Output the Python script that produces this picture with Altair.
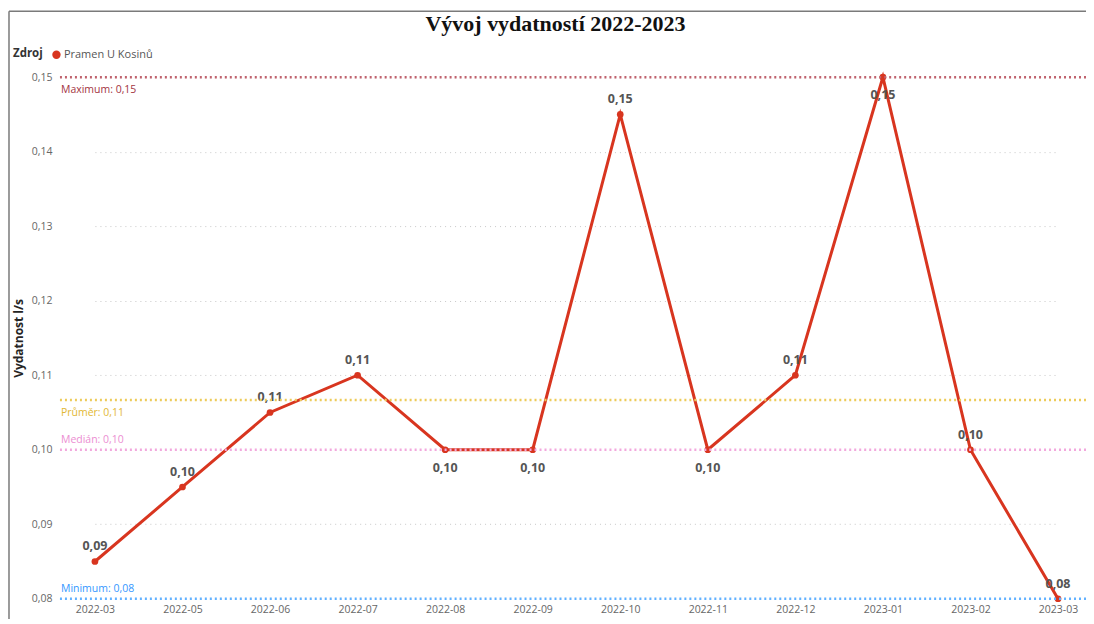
import altair as alt
import pandas as pd
import statistics
from decimal import Decimal, ROUND_HALF_UP

# ---- data ----
months = ["2022-03", "2022-05", "2022-06", "2022-07", "2022-08", "2022-09",
          "2022-10", "2022-11", "2022-12", "2023-01", "2023-02", "2023-03"]
values = [0.085, 0.095, 0.105, 0.11, 0.10, 0.10, 0.145, 0.10, 0.11, 0.15, 0.10, 0.08]
source = "Pramen U Kosinů"
y_ticks = [0.08, 0.09, 0.10, 0.11, 0.12, 0.13, 0.14, 0.15]

ref_names = ["Maximum", "Průměr", "Medián", "Minimum"]
ref_values = [max(values), statistics.mean(values), statistics.median(values), min(values)]
ref_line_colors = ["#C0636E", "#EDCB5A", "#F2A8DD", "#62B1FF"]
ref_text_colors = ["#A3343F", "#E2B833", "#EC8ED2", "#3597FF"]
ref_side = ["below", "below", "above", "above"]

LINE_RED = "#D8351F"
FONT = "Open Sans"
W, H = 1030, 522


def cz(v):
    return str(Decimal(str(v)).quantize(Decimal("0.01"), ROUND_HALF_UP)).replace(".", ",")


ymin, ymax = min(y_ticks), max(y_ticks)
pos = []
for i, v in enumerate(values):
    local_min = 0 < i < len(values) - 1 and v <= values[i - 1] and v <= values[i + 1]
    pos.append("below" if (v >= ymax or local_min) else "above")

df = pd.DataFrame({
    "month": months,
    "value": values,
    "label": [cz(v) for v in values],
    "pos": pos,
    "Zdroj": [source] * len(values),
})

refs = pd.DataFrame({
    "name": ref_names,
    "value": ref_values,
    "label": [f"{n}: {cz(v)}" for n, v in zip(ref_names, ref_values)],
    "side": ref_side,
})

x_enc = alt.X("month:N", sort=months, title=None,
              scale=alt.Scale(type="point", padding=0, range=[38, 1002]),
              axis=alt.Axis(labelAngle=0, ticks=False, domain=False, grid=False,
                            labelColor="#666", labelFontSize=10.5, labelFont=FONT,
                            labelPadding=6))
y_scale = alt.Scale(domain=[ymin, ymax], nice=False, zero=False)
y_enc = alt.Y("value:Q", scale=y_scale, title="Vydatnost l/s",
              axis=alt.Axis(values=y_ticks,
                            labelExpr="replace(format(datum.value, '.2f'), '.', ',')",
                            ticks=False, domain=False, grid=True,
                            gridColor="#C8C8C8", gridDash=[1, 4], gridWidth=1,
                            labelColor="#666", labelFontSize=10.5, labelFont=FONT,
                            labelPadding=5, titleFont=FONT, titleFontSize=12,
                            titleFontWeight="bold", titleColor="#252423",
                            titlePadding=6))

base = alt.Chart(df).encode(x=x_enc, y=y_enc)

line = base.mark_line(strokeWidth=3).encode(
    color=alt.Color("Zdroj:N", scale=alt.Scale(domain=[source], range=[LINE_RED]), legend=None)
)
points = base.mark_circle(size=45, opacity=1).encode(
    color=alt.Color("Zdroj:N", scale=alt.Scale(domain=[source], range=[LINE_RED]),
                    legend=alt.Legend(orient="none", legendX=-44, legendY=-28,
                                      direction="horizontal", titleOrient="left",
                                      title="Zdroj", titleFont=FONT, titleFontSize=11.5,
                                      titleFontWeight="bold", titleColor="#333",
                                      labelFont=FONT, labelFontSize=11, labelColor="#555",
                                      symbolType="circle", symbolSize=70,
                                      titlePadding=8, labelOffset=2))
)

lab_above = base.transform_filter(alt.datum.pos == "above").mark_text(
    dy=-15, fontWeight="bold", fontSize=12.5, font=FONT, color="#555"
).encode(text="label:N")
lab_below = base.transform_filter(alt.datum.pos == "below").mark_text(
    dy=18, fontWeight="bold", fontSize=12.5, font=FONT, color="#555"
).encode(text="label:N")

ref_base = alt.Chart(refs).encode(y=alt.Y("value:Q", scale=y_scale))
ref_rules = ref_base.mark_rule(strokeWidth=2.5, strokeDash=[2, 3]).encode(
    color=alt.Color("name:N", scale=alt.Scale(domain=ref_names, range=ref_line_colors), legend=None)
)
ref_lab_below = ref_base.transform_filter(alt.datum.side == "below").mark_text(
    align="left", dy=13, fontSize=10.5, font=FONT
).encode(x=alt.value(4), text="label:N",
         color=alt.Color("name:N", scale=alt.Scale(domain=ref_names, range=ref_text_colors), legend=None))
ref_lab_above = ref_base.transform_filter(alt.datum.side == "above").mark_text(
    align="left", dy=-10, fontSize=10.5, font=FONT
).encode(x=alt.value(4), text="label:N",
         color=alt.Color("name:N", scale=alt.Scale(domain=ref_names, range=ref_text_colors), legend=None))

# decorative visual frame (top and left edges, as in the reference)
frame_top = alt.Chart(refs.head(1)).mark_rule(color="#7A7A7A", strokeWidth=1.5).encode(
    x=alt.value(-48), x2=alt.value(W + 10), y=alt.value(-66)
)
frame_left = alt.Chart(refs.head(1)).mark_rule(color="#7A7A7A", strokeWidth=1.5).encode(
    x=alt.value(-48), y=alt.value(-66), y2=alt.value(H + 30)
)

chart = alt.layer(
    line, points, lab_above, lab_below, ref_rules, ref_lab_below, ref_lab_above,
    frame_top, frame_left
).resolve_scale(color="independent").properties(
    width=W, height=H,
    background="white",
    title=alt.TitleParams("Vývoj vydatností 2022-2023", font="Liberation Serif",
                          fontSize=22, fontWeight="bold", color="#111",
                          anchor="middle", offset=-25, dx=-16),
    autosize=alt.AutoSizeParams(type="none"),
    padding={"left": 49, "top": 69, "right": 0, "bottom": 20},
).configure_view(strokeWidth=0, stroke="transparent")

chart.save("out.html", embed_options={"renderer": "svg", "actions": False})
